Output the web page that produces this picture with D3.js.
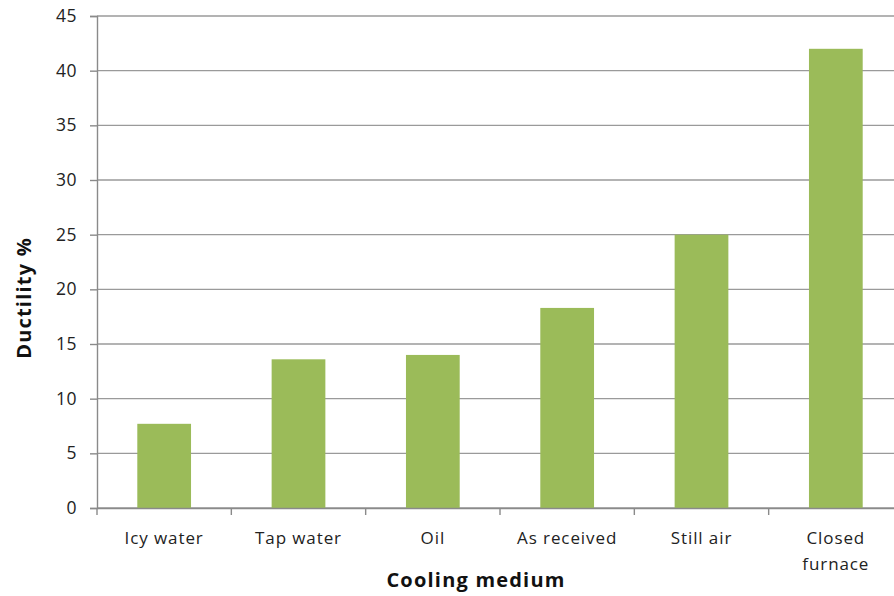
<!DOCTYPE html>
<head>
<meta charset="utf-8">
<title>Ductility by cooling medium</title>
<script src="https://d3js.org/d3.v7.min.js"></script>
<style>
  body { margin: 0; background: #fff; }
  text { font-family: "Open Sans", "Liberation Sans", sans-serif; fill: #222; }
</style>
</head>
<body>
<div id="chart"></div>
<script>

var categories = ["Icy water", "Tap water", "Oil", "As received", "Still air", "Closed furnace"];
var ductility = [7.7, 13.6, 14.0, 18.3, 25.0, 42.0];
var yTicks = [0, 5, 10, 15, 20, 25, 30, 35, 40, 45];

var margin = {top: 16, right: -9, bottom: 88, left: 97},
    width = 894 - margin.left - margin.right,
    height = 596 - margin.top - margin.bottom;

var svg = d3.select("#chart")
  .append("svg")
    .attr("width", 894)
    .attr("height", 596)
  .append("g")
    .attr("transform", "translate(" + margin.left + "," + margin.top + ")");

var x = d3.scaleBand()
  .range([0, width])
  .domain(categories)
  .padding(0);

var y = d3.scaleLinear()
  .domain([0, 45])
  .range([height, 0]);

// gridlines
svg.selectAll("line.grid")
  .data(yTicks)
  .enter()
  .append("line")
    .attr("class", "grid")
    .attr("x1", 0)
    .attr("x2", width)
    .attr("y1", function(d) { return y(d); })
    .attr("y2", function(d) { return y(d); })
    .style("stroke", "#9a9a9a")
    .style("stroke-width", 1.4);

// bars
svg.selectAll("mybar")
  .data(ductility)
  .enter()
  .append("rect")
    .attr("x", function(d, i) { return x(categories[i]) + x.bandwidth() * 0.3; })
    .attr("y", function(d) { return y(d); })
    .attr("width", x.bandwidth() * 0.4)
    .attr("height", function(d) { return height - y(d); })
    .attr("fill", "#9bbb59");

// y axis
var yAxis = svg.append("g")
  .call(d3.axisLeft(y).tickValues(yTicks).tickSize(7).tickPadding(13));
yAxis.select(".domain").style("stroke", "#8a8a8a").style("stroke-width", 1.4);
yAxis.selectAll(".tick line").style("stroke", "#8a8a8a").style("stroke-width", 1.4);
yAxis.selectAll("text")
  .style("font-size", "17.5px")
  .style("letter-spacing", "0.5px")
  .style("fill", "#222");

// x axis
var xAxis = svg.append("g")
  .attr("transform", "translate(0," + height + ")")
  .call(d3.axisBottom(x).tickSize(0).tickSizeOuter(0).tickFormat(""));
xAxis.select(".domain").style("stroke", "#8a8a8a").style("stroke-width", 1.4);

// category boundary ticks
svg.selectAll("line.xtick")
  .data(categories)
  .enter()
  .append("line")
    .attr("class", "xtick")
    .attr("x1", function(d) { return x(d); })
    .attr("x2", function(d) { return x(d); })
    .attr("y1", height)
    .attr("y2", height + 7)
    .style("stroke", "#8a8a8a")
    .style("stroke-width", 1.4);

// category labels (wrap the long one)
svg.selectAll("text.cat")
  .data(categories)
  .enter()
  .append("text")
    .attr("class", "cat")
    .attr("text-anchor", "middle")
    .attr("x", function(d) { return x(d) + x.bandwidth() / 2; })
    .attr("y", height + 36)
    .style("font-size", "17px")
    .style("letter-spacing", "0.9px")
    .each(function(d) {
      var words = d === "Closed furnace" ? ["Closed", "furnace"] : [d];
      var t = d3.select(this);
      words.forEach(function(w, k) {
        t.append("tspan")
          .attr("x", x(d) + x.bandwidth() / 2)
          .attr("dy", k === 0 ? 0 : 26)
          .text(w);
      });
    });

// axis titles
svg.append("text")
  .attr("text-anchor", "middle")
  .attr("x", 379)
  .attr("y", height + 79)
  .style("font-size", "20px")
  .style("letter-spacing", "1.2px")
  .style("font-weight", "bold")
  .style("fill", "#111")
  .text("Cooling medium");

svg.append("text")
  .attr("text-anchor", "middle")
  .attr("transform", "translate(" + (-66) + "," + 282 + ")rotate(-90)")
  .style("font-size", "20px")
  .style("letter-spacing", "1.2px")
  .style("font-weight", "bold")
  .style("fill", "#111")
  .text("Ductility %");

</script>
</body>
